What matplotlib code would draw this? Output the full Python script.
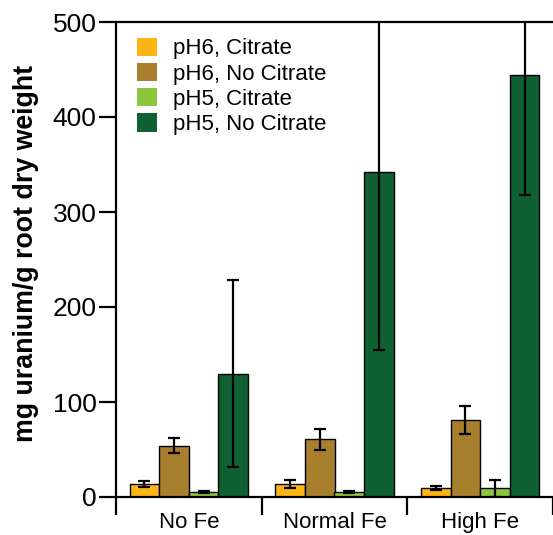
import numpy as np
import matplotlib
matplotlib.use("Agg")
import matplotlib.pyplot as plt
from matplotlib.patches import Patch

categories = ["No Fe", "Normal Fe", "High Fe"]
series = ["pH6, Citrate", "pH6, No Citrate", "pH5, Citrate", "pH5, No Citrate"]
colors = ["#FDB515", "#A87F2D", "#8CC63F", "#0F6131"]

# mean values, one list per series (No Fe, Normal Fe, High Fe)
ph6_citrate = [14, 14, 9.5]
ph6_no_citrate = [54, 61, 81]
ph5_citrate = [5, 5, 9]
ph5_no_citrate = [130, 342, 444]

# error bar half-widths
ph6_citrate_err = [3, 4, 2.5]
ph6_no_citrate_err = [8, 11, 15]
ph5_citrate_err = [1, 1, 9]
ph5_no_citrate_err = [98, 187, 126]

values = [ph6_citrate, ph6_no_citrate, ph5_citrate, ph5_no_citrate]
errors = [ph6_citrate_err, ph6_no_citrate_err, ph5_citrate_err, ph5_no_citrate_err]

plt.rcParams["font.family"] = ["Liberation Sans", "DejaVu Sans"]

W, H = 553, 535
fig = plt.figure(figsize=(W / 100, H / 100), dpi=100)
ax = fig.add_axes([116 / W, 38 / H, (W - 116) / W, (497 - 22) / H])

x = np.arange(len(categories))
width = 0.203
for i, (vals, errs) in enumerate(zip(values, errors)):
    pos = x + (i - 1.5) * width
    ax.bar(pos, vals, width, color=colors[i], edgecolor="black", linewidth=1, zorder=2)
    ax.errorbar(pos, vals, yerr=errs, fmt="none", ecolor="black",
                elinewidth=1.6, capsize=4, capthick=1.6, zorder=3)

ax.set_xlim(-0.5, (W - 116) / 148 - 0.5)
ax.set_ylim(0, 500)
ax.set_yticks([0, 100, 200, 300, 400, 500])

# group separators as major ticks, names on minor ticks
ax.set_xticks([-0.5, 0.5, 1.5, 2.5])
ax.set_xticklabels([])
ax.set_xticks(x, minor=True)
ax.set_xticklabels(categories, minor=True, fontsize=16)
ax.tick_params(axis="x", which="major", length=13, width=1.6, direction="out")
ax.tick_params(axis="x", which="minor", length=0, pad=11)
ax.tick_params(axis="y", length=12, width=1.6, labelsize=19, pad=2)

for side in ["left", "bottom", "top"]:
    ax.spines[side].set_linewidth(1.6)
ax.spines["right"].set_visible(False)

ax.set_ylabel("mg uranium/g root dry weight", fontsize=19.3, fontweight="bold")
ax.yaxis.set_label_coords(-0.177, 0.512)

handles = [Patch(facecolor=c, edgecolor="none") for c in colors]
ax.legend(handles, series, loc="upper left", frameon=False, fontsize=16,
          handlelength=0.9, handleheight=0.9, labelspacing=0.15,
          handletextpad=0.75, borderaxespad=0.3, bbox_to_anchor=(0.012, 1.0))

fig.savefig("out.png", dpi=100)
